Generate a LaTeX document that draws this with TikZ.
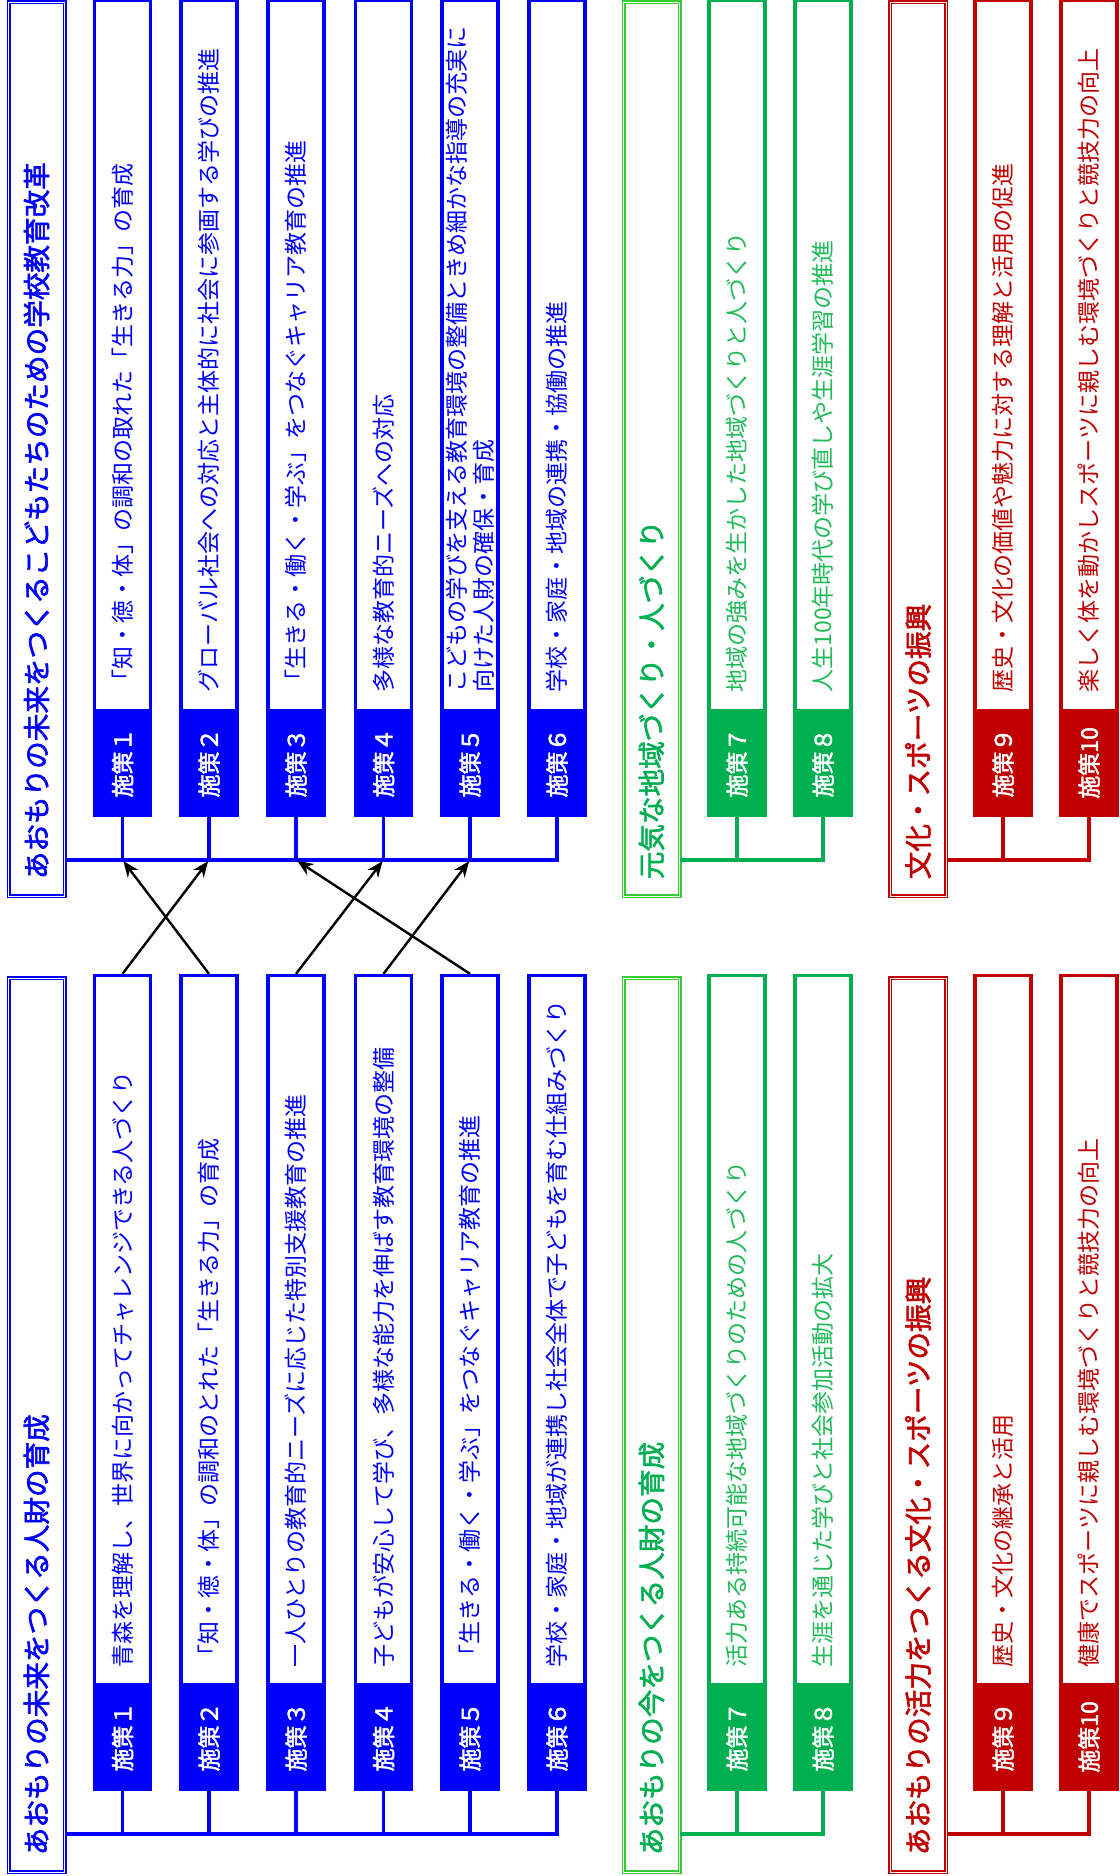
\documentclass[tikz,border=0pt]{standalone}
\usepackage{fontspec}
\setmainfont{Noto Sans CJK JP}
\newfontfamily\midfont[FakeBold=2]{Noto Sans CJK JP}
\usetikzlibrary{arrows.meta}
\definecolor{pblue}{HTML}{0000FF}
\definecolor{pgreen}{HTML}{00B050}
\definecolor{lgreen}{HTML}{33CC33}
\definecolor{tgreen}{HTML}{20BA58}
\definecolor{pred}{HTML}{C00000}

\begin{document}
\begin{tikzpicture}[x=0.5pt, y=-0.5pt,
    desc/.style={rotate=90, anchor=west, draw=#1, text=#1, line width=1.6pt, minimum width=355pt, minimum height=28pt, inner xsep=9pt, inner ysep=0pt, text width=337pt, align=left, font=\fontsize{11.5}{13.5}\selectfont},
    tag/.style={rotate=90, anchor=west, draw=#1, fill=#1, text=white, line width=1.6pt, minimum width=52.5pt, minimum height=28pt, font=\fontsize{11.5}{13}\midfont},
    head/.style={rotate=90, anchor=west, draw=#1, double=white, double distance=0.4pt, line width=0.8pt, minimum width=447pt, minimum height=28pt, inner xsep=8.5pt, text width=430pt, align=left, font=\fontsize{13.8}{16}\midfont},
    bus/.style={draw=#1, line width=1.6pt},
    arr/.style={-{Stealth[length=8pt, width=6.5pt]}, line width=1.2pt, shorten >=0.7pt}]
        \useasboundingbox (0,0) rectangle (1120,1876);

        \node[head=pblue, text=pblue] (hu1) at (36.5,897) {あおもりの未来をつくるこどもたちのための学校教育改革};
        \node[desc=pblue] (u1) at (122.5,712) {「知・徳・体」の調和の取れた「生きる力」の育成};
        \node[tag=pblue] (su1) at (122.5,817) {施策１};
        \node[desc=pblue] (u2) at (209,712) {グローバル社会への対応と主体的に社会に参画する学びの推進};
        \node[tag=pblue] (su2) at (209,817) {施策２};
        \node[desc=pblue] (u3) at (296,712) {「生きる・働く・学ぶ」をつなぐキャリア教育の推進};
        \node[tag=pblue] (su3) at (296,817) {施策３};
        \node[desc=pblue] (u4) at (383.5,712) {多様な教育的ニーズへの対応};
        \node[tag=pblue] (su4) at (383.5,817) {施策４};
        \node[desc=pblue] (u5) at (470,712) {こどもの学びを支える教育環境の整備ときめ細かな指導の充実に\\向けた人財の確保・育成};
        \node[tag=pblue] (su5) at (470,817) {施策５};
        \node[desc=pblue] (u6) at (557,712) {学校・家庭・地域の連携・協働の推進};
        \node[tag=pblue] (su6) at (557,817) {施策６};

        \node[head=lgreen, text=pgreen] (hu2) at (651.5,897) {元気な地域づくり・人づくり};
        \node[desc=pgreen, text=tgreen] (u7) at (737,712) {地域の強みを生かした地域づくりと人づくり};
        \node[tag=pgreen] (su7) at (737,817) {施策７};
        \node[desc=pgreen, text=tgreen] (u8) at (823,712) {人生100年時代の学び直しや生涯学習の推進};
        \node[tag=pgreen] (su8) at (823,817) {施策８};

        \node[head=pred, text=pred] (hu3) at (918,897) {文化・スポーツの振興};
        \node[desc=pred] (u9) at (1003,712) {歴史・文化の価値や魅力に対する理解と活用の促進};
        \node[tag=pred] (su9) at (1003,817) {施策９};
        \node[desc=pred] (u10) at (1089,712) {楽しく体を動かしスポーツに親しむ環境づくりと競技力の向上};
        \node[tag=pred] (su10) at (1089,817) {施策10};

        \node[head=pblue, text=pblue] (hd1) at (36.5,1873) {あおもりの未来をつくる人財の育成};
        \node[desc=pblue] (d1) at (122.5,1687) {青森を理解し、世界に向かってチャレンジできる人づくり};
        \node[tag=pblue] (sd1) at (122.5,1791) {施策１};
        \node[desc=pblue] (d2) at (209,1687) {「知・徳・体」の調和のとれた「生きる力」の育成};
        \node[tag=pblue] (sd2) at (209,1791) {施策２};
        \node[desc=pblue] (d3) at (296,1687) {一人ひとりの教育的ニーズに応じた特別支援教育の推進};
        \node[tag=pblue] (sd3) at (296,1791) {施策３};
        \node[desc=pblue] (d4) at (383.5,1687) {子どもが安心して学び、多様な能力を伸ばす教育環境の整備};
        \node[tag=pblue] (sd4) at (383.5,1791) {施策４};
        \node[desc=pblue] (d5) at (470,1687) {「生きる・働く・学ぶ」をつなぐキャリア教育の推進};
        \node[tag=pblue] (sd5) at (470,1791) {施策５};
        \node[desc=pblue] (d6) at (557,1687) {学校・家庭・地域が連携し社会全体で子どもを育む仕組みづくり};
        \node[tag=pblue] (sd6) at (557,1791) {施策６};

        \node[head=lgreen, text=pgreen] (hd2) at (651.5,1873) {あおもりの今をつくる人財の育成};
        \node[desc=pgreen, text=tgreen] (d7) at (737,1687) {活力ある持続可能な地域づくりのための人づくり};
        \node[tag=pgreen] (sd7) at (737,1791) {施策７};
        \node[desc=pgreen, text=tgreen] (d8) at (823,1687) {生涯を通じた学びと社会参加活動の拡大};
        \node[tag=pgreen] (sd8) at (823,1791) {施策８};

        \node[head=pred, text=pred] (hd3) at (918,1873) {あおもりの活力をつくる文化・スポーツの振興};
        \node[desc=pred] (d9) at (1003,1687) {歴史・文化の継承と活用};
        \node[tag=pred] (sd9) at (1003,1791) {施策９};
        \node[desc=pred] (d10) at (1089,1687) {健康でスポーツに親しむ環境づくりと競技力の向上};
        \node[tag=pred] (sd10) at (1089,1791) {施策10};

        \coordinate (ju1) at (122.5,860);
        \coordinate (ju2) at (209,860);
        \coordinate (ju3) at (296,860);
        \coordinate (ju4) at (383.5,860);
        \coordinate (ju5) at (470,860);
        \coordinate (ju6) at (557,860);
        \coordinate (ju7) at (737,860);
        \coordinate (ju8) at (823,860);
        \coordinate (ju9) at (1003,860);
        \coordinate (ju10) at (1089,860);
        \coordinate (jd1) at (122.5,1834);
        \coordinate (jd2) at (209,1834);
        \coordinate (jd3) at (296,1834);
        \coordinate (jd4) at (383.5,1834);
        \coordinate (jd5) at (470,1834);
        \coordinate (jd6) at (557,1834);
        \coordinate (jd7) at (737,1834);
        \coordinate (jd8) at (823,1834);
        \coordinate (jd9) at (1003,1834);
        \coordinate (jd10) at (1089,1834);

        \draw[bus=pblue] (su1.west) -- (ju1);
        \draw[bus=pblue] (su2.west) -- (ju2);
        \draw[bus=pblue] (su3.west) -- (ju3);
        \draw[bus=pblue] (su4.west) -- (ju4);
        \draw[bus=pblue] (su5.west) -- (ju5);
        \draw[bus=pblue] (su6.west) -- (ju6) -- (hu1.south |- ju6);
        \draw[bus=pgreen] (su7.west) -- (ju7);
        \draw[bus=pgreen] (su8.west) -- (ju8) -- (hu2.south |- ju8);
        \draw[bus=pred] (su9.west) -- (ju9);
        \draw[bus=pred] (su10.west) -- (ju10) -- (hu3.south |- ju10);

        \draw[bus=pblue] (sd1.west) -- (jd1);
        \draw[bus=pblue] (sd2.west) -- (jd2);
        \draw[bus=pblue] (sd3.west) -- (jd3);
        \draw[bus=pblue] (sd4.west) -- (jd4);
        \draw[bus=pblue] (sd5.west) -- (jd5);
        \draw[bus=pblue] (sd6.west) -- (jd6) -- (hd1.south |- jd6);
        \draw[bus=pgreen] (sd7.west) -- (jd7);
        \draw[bus=pgreen] (sd8.west) -- (jd8) -- (hd2.south |- jd8);
        \draw[bus=pred] (sd9.west) -- (jd9);
        \draw[bus=pred] (sd10.west) -- (jd10) -- (hd3.south |- jd10);

        \draw[arr] (d1.east) -- (ju2);
        \draw[arr] (d2.east) -- (ju1);
        \draw[arr] (d3.east) -- (ju4);
        \draw[arr] (d4.east) -- (ju5);
        \draw[arr] (d5.east) -- (ju3);
\end{tikzpicture}
\end{document}
